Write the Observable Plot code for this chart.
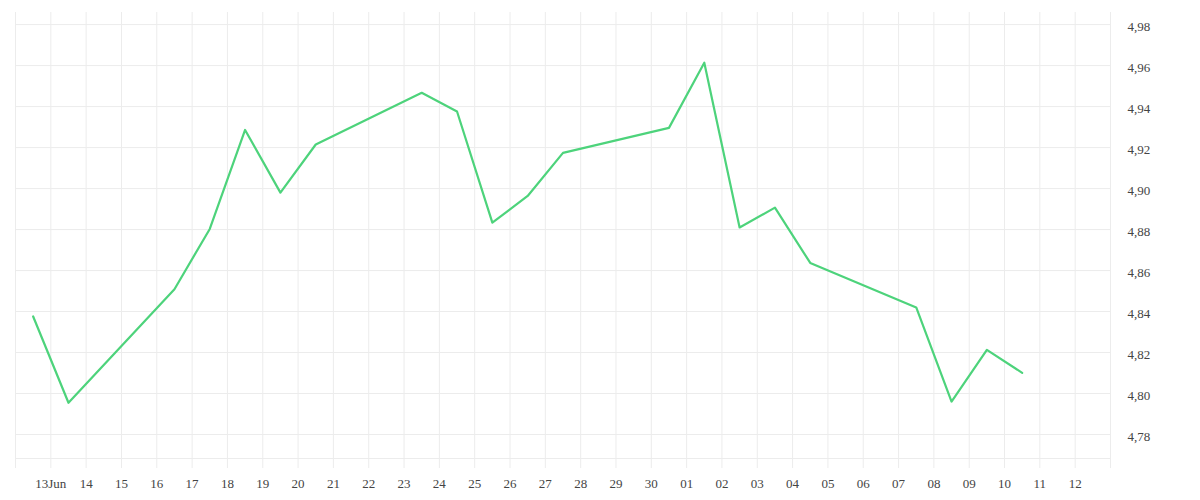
<!DOCTYPE html>
<html>
<head>
<meta charset="utf-8">
<script src="https://cdn.jsdelivr.net/npm/d3@7"></script>
<script src="https://cdn.jsdelivr.net/npm/@observablehq/plot@0.6"></script>
<style>
  html, body { margin: 0; padding: 0; background: #fff; }
  #chart { width: 1200px; height: 500px; }
</style>
</head>
<body>
<div id="chart"></div>
<script>
// Trading days (weekends skipped), June–July 2025
const dates = [
  "2025-06-12", "2025-06-13", "2025-06-16", "2025-06-17", "2025-06-18",
  "2025-06-19", "2025-06-20", "2025-06-23", "2025-06-24", "2025-06-25",
  "2025-06-26", "2025-06-27", "2025-06-30", "2025-07-01", "2025-07-02",
  "2025-07-03", "2025-07-04", "2025-07-07", "2025-07-08", "2025-07-09",
  "2025-07-10"
];
const values = [
  4.8376, 4.7955, 4.8509, 4.8803, 4.9286,
  4.8980, 4.9215, 4.9467, 4.9376, 4.8834,
  4.8964, 4.9174, 4.9296, 4.9614, 4.8810,
  4.8907, 4.8637, 4.8420, 4.7961, 4.8213,
  4.8101
];
const yTicks = [4.78, 4.80, 4.82, 4.84, 4.86, 4.88, 4.90, 4.92, 4.94, 4.96, 4.98];
const xStart = "2025-06-12";
const xEnd = "2025-07-13";
const yDomain = [4.7683, 4.9859];

const data = dates.map((d, i) => ({date: new Date(d + "T12:00:00Z"), value: values[i]}));
const dayTicks = d3.utcDay.range(new Date(xStart + "T00:00:00Z"), d3.utcDay.offset(new Date(xEnd + "T00:00:00Z"), 1));
const fmtDay = d => {
  const t = d.getTime();
  if (t === dayTicks[0].getTime() || t === dayTicks[dayTicks.length - 1].getTime()) return "";
  const dd = String(d.getUTCDate()).padStart(2, "0");
  return dd === "13" && d.getUTCMonth() === 5 ? "13Jun" : dd;
};
const fmtY = v => v.toFixed(2).replace(".", ",");

const grid = "#ececec";
const chart = Plot.plot({
  width: 1200,
  height: 500,
  marginLeft: 15,
  marginRight: 90,
  marginTop: 12,
  marginBottom: 42,
  style: {fontFamily: "'Liberation Serif', serif", fontSize: "13px", color: "#444", background: "#fff"},
  x: {type: "utc", domain: [new Date(xStart + "T00:00:00Z"), new Date(xEnd + "T00:00:00Z")]},
  y: {domain: yDomain},
  marks: [
    Plot.gridX(dayTicks, {stroke: grid, strokeOpacity: 1}),
    Plot.gridY(yTicks, {stroke: grid, strokeOpacity: 1}),
    Plot.ruleY([yDomain[0]], {stroke: grid, strokeOpacity: 1}),
    Plot.axisX(dayTicks, {tickSize: 10, tickPadding: 10, stroke: grid, strokeOpacity: 1, tickFormat: fmtDay, fill: "#444", label: null}),
    Plot.axisY(yTicks, {anchor: "right", tickSize: 0, tickPadding: 17, tickFormat: fmtY, fill: "#444", label: null, dy: 2}),
    Plot.line(data, {x: "date", y: "value", stroke: "#4dd37b", strokeWidth: 2.2, curve: "linear"})
  ]
});
document.getElementById("chart").appendChild(chart);
</script>
</body>
</html>
